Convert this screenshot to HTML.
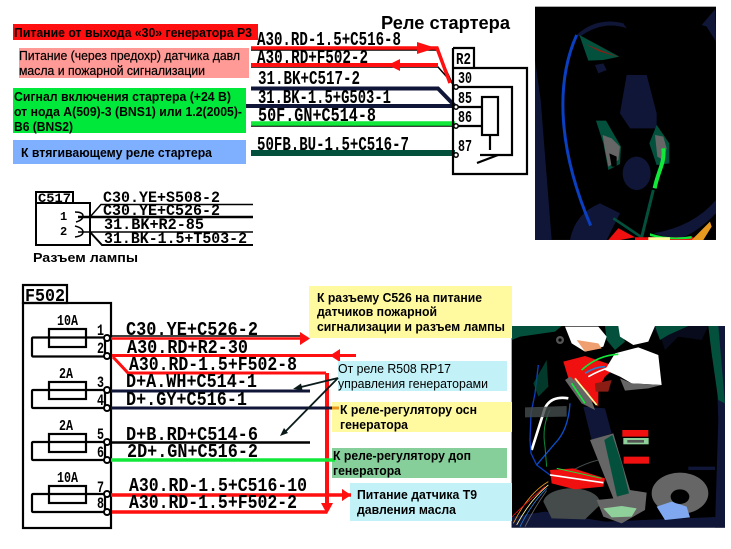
<!DOCTYPE html>
<html><head><meta charset="utf-8"><style>
html,body{margin:0;padding:0;background:#fff}
svg{display:block}
text{font-family:"Liberation Sans",sans-serif;fill:#000}
.b{font-weight:bold}
.c{font-family:"Liberation Mono",monospace;font-weight:bold;font-size:19px}
.d{font-family:"Liberation Mono",monospace;font-weight:bold;font-size:16px}
.p{font-family:"Liberation Mono",monospace;font-weight:bold;font-size:17px}
.s{font-size:12px}
</style></head><body>
<svg width="731" height="549" viewBox="0 0 731 549" xmlns="http://www.w3.org/2000/svg">
<rect width="731" height="549" fill="#fff"/>

<!-- top photo -->
<g transform="translate(520,0) scale(.3333)">
<rect x="45" y="20" width="543" height="700" fill="#000"/>
<g fill="#101638">
<path d="M320 225L380 225L410 340L410 385L330 385L300 340Z"/>
<ellipse cx="350" cy="520" rx="42" ry="50"/>
<path d="M45 180L62 300L95 720L45 720Z"/>
<path d="M150 720Q165 640 240 610L300 640L260 720Z"/>
<path d="M545 75L585 28L588 125L560 80Z"/>
<path d="M400 700Q520 680 588 600L588 640Q530 700 470 720Z"/>
<path d="M225 195L250 190L260 210L235 220Z"/>
<path d="M170 105Q230 50 310 70L320 85Q250 60 180 110Z"/>
</g>
<path d="M178 105L298 170L250 180L205 182Z" fill="#03513c"/>
<path d="M195 132L298 172L240 155Z" fill="#8a1c14"/>
<path d="M228 362L258 362L303 440L300 492L265 510L250 430Z" fill="#03513c"/>
<path d="M248 405L275 415L300 440L295 480L265 500L255 450Z" fill="#666"/>
<path d="M268 460L290 470L290 500L275 500Z" fill="#000"/>
<path d="M410 375L448 430L448 490L410 495L388 430Z" fill="#03513c"/>
<path d="M405 405L430 410L440 445L430 480L412 470Z" fill="#666"/>
<path d="M170 105C105 250 115 450 212 677" fill="none" stroke="#0a3fc0" stroke-width="9"/>
<path d="M400 570L365 712" fill="none" stroke="#03513c" stroke-width="9"/>
<path d="M430 445C435 490 415 510 404 565" fill="none" stroke="#11e83a" stroke-width="12"/>
<path d="M280 655L365 712" fill="none" stroke="#03513c" stroke-width="8"/>
<path d="M295 685L345 712L300 720L265 720Z" fill="#f01010"/>
<path d="M345 712H520V720H345Z" fill="#f01010"/>
<path d="M390 700Q450 720 515 708L515 716Q440 722 390 708Z" fill="#11e83a"/>
<path d="M515 720L570 665L575 680L550 720Z" fill="#e89a20"/>
<path d="M385 712H450V720H385Z" fill="#fff9a0"/>
</g>

<!-- bottom photo -->
<g transform="translate(505,320) scale(.3333)">
<rect x="20" y="18" width="640" height="605" fill="#000"/>
<g fill="#101638">
<path d="M630 18H660V623H630L640 300Z"/>
<path d="M20 590L120 575L300 605L660 590V623H20Z"/>
<path d="M550 440H630V450H550Z"/>
<path d="M235 260L300 265L320 340L260 360Z"/>
<path d="M440 18H610L590 60L520 50L480 90L470 60Z" opacity=".5"/>
</g>
<path d="M20 18H170L150 35L45 50L20 60Z" fill="#03513c"/>
<path d="M300 18H340L360 65L330 90L305 60Z" fill="#03513c"/>
<path d="M450 18H550L490 45L465 60Z" fill="#03513c"/>
<path d="M610 18H640L660 250L640 240L620 100Z" fill="#03513c"/>
<path d="M440 520A85 62 0 1 1 610 520A85 62 0 1 1 440 520Z" fill="#666"/>
<path d="M455 560L500 545L545 560L555 592L480 600Z" fill="#7fa8f0"/>
<ellipse cx="525" cy="530" rx="28" ry="22" fill="#000"/>
<path d="M115 545A85 45 0 0 1 285 555L240 598L140 595Z" fill="#454b4b"/>
<path d="M255 360L325 340L375 510L425 518L420 570L350 610L295 590L275 540L325 535Z" fill="#666"/>
<path d="M298 360L322 345L350 430L372 520L336 530Z" fill="#03513c"/>
<path d="M295 565L350 558L395 565L380 590L320 592Z" fill="#8fd09a"/>
<path d="M175 125L240 108L335 140L300 170L280 205L280 260L230 220L195 190Z" fill="#f01010"/>
<path d="M270 190L320 180L310 215L272 215Z" fill="#8a1c14"/>
<path d="M330 100L400 82L460 105L470 195L380 190L345 170L300 150Z" fill="#fff"/>
<path d="M345 175L380 190L470 195L430 205L360 212Z" fill="#666"/>
<path d="M180 20H280L305 50L295 80L240 95L200 70Z" fill="#fff"/>
<path d="M215 60L280 70L290 85L240 95Z" fill="#f0a070"/>
<path d="M340 18H450L430 65L385 75L345 50Z" fill="#fff"/>
<path d="M180 180L230 250L270 270L250 215L195 170Z" fill="#666"/>
<g fill="none" stroke-width="5">
<path d="M230 150Q280 105 340 103" stroke="#11e83a"/>
<path d="M250 170Q320 130 410 125" stroke="#fff"/>
<path d="M240 160Q270 140 300 140" stroke="#2a7fd0"/>
<path d="M200 190L240 250" stroke="#11e83a"/>
<path d="M210 175L275 255" stroke="#fff9a0"/>
<path d="M190 235C160 230 125 235 115 280L80 390" stroke="#fff" stroke-width="8"/>
<path d="M100 135L90 220L78 280L75 360L78 400L95 435L135 465" stroke="#0a3fc0" stroke-width="4"/>
<path d="M195 250Q190 330 150 370L95 435" stroke="#0a4fc8" stroke-width="4"/>
<path d="M135 270Q110 320 120 380L125 440" stroke="#0f8a3c" stroke-width="3"/>
<path d="M205 450Q240 430 280 420" stroke="#454b4b" stroke-width="3"/>
</g>
<path d="M60 262L185 258L185 290L60 292Z" fill="#454b4b" opacity=".8"/>
<path d="M85 190L125 120L130 200L100 230Z" fill="#03513c" opacity=".7"/>
<path d="M135 450L205 445L300 475L295 500L210 508L140 490Z" fill="#f01010"/>
<path d="M135 465L295 488" stroke="#fff" stroke-width="5"/>
<path d="M155 445L290 475" stroke="#11e83a" stroke-width="3"/>
<g fill="none" stroke-width="2.500">
<path d="M130 485Q70 520 25 610" stroke="#e89a20"/>
<path d="M130 495Q75 540 35 615" stroke="#fff9a0"/>
<path d="M125 505Q80 550 45 620" stroke="#2a7fd0"/>
<path d="M125 512Q90 560 60 620" stroke="#666"/>
<path d="M120 500Q50 560 22 590" stroke="#f01010"/>
</g>
<rect x="352" y="330" width="78" height="20" fill="#f01010"/>
<rect x="355" y="354" width="76" height="19" fill="#8fd09a"/>
<rect x="367" y="360" width="50" height="8" fill="#555"/>
<rect x="356" y="410" width="76" height="21" fill="#f01010"/>
<circle cx="165" cy="60" r="12" fill="#555"/><circle cx="165" cy="60" r="5" fill="#000"/>
</g>

<!-- top labels -->
<rect x="13" y="24" width="245" height="16" fill="#ff0f0f"/>
<rect x="19" y="48" width="230" height="30" fill="#ff9a96"/>
<rect x="13" y="88" width="233" height="45" fill="#00e83a"/>
<rect x="13" y="140" width="233" height="24" fill="#7eb0ff"/>
<text x="14" y="37" class="b" font-size="12.500" textLength="238" lengthAdjust="spacingAndGlyphs">Питание от выхода «30» генератора Р3</text>
<text x="19" y="60" font-size="12.500" stroke="#000" stroke-width=".2" textLength="221" lengthAdjust="spacingAndGlyphs">Питание (через предохр) датчика давл</text>
<text x="19" y="75" font-size="12.500" stroke="#000" stroke-width=".2" textLength="186" lengthAdjust="spacingAndGlyphs">масла и пожарной сигнализации</text>
<text x="14" y="101" class="b" font-size="12.500" textLength="217" lengthAdjust="spacingAndGlyphs">Сигнал включения стартера (+24 В)</text>
<text x="14" y="116" class="b" font-size="12.500" textLength="228" lengthAdjust="spacingAndGlyphs">от нода А(509)-3 (BNS1) или 1.2(2005)-</text>
<text x="14" y="131" class="b" font-size="12.500" textLength="59" lengthAdjust="spacingAndGlyphs">В6 (BNS2)</text>
<text x="21" y="157" class="b" font-size="12.500" textLength="191" lengthAdjust="spacingAndGlyphs">К втягивающему реле стартера</text>

<text x="381" y="29" class="b" font-size="18" textLength="129" lengthAdjust="spacingAndGlyphs">Реле стартера</text>

<!-- relay wires -->
<g fill="none" stroke-linejoin="miter">
<path d="M251 50H437L453 85" stroke="#000" stroke-width="1.500"/>
<path d="M251 67H438L454 85" stroke="#000" stroke-width="1.500"/>
<path d="M251 48H437L450 83" stroke="#ff0f0f" stroke-width="3.500"/>
<path d="M251 65H438" stroke="#ff0f0f" stroke-width="4"/>
<path d="M251 88.500H438L455 106" stroke="#101638" stroke-width="4"/>
<path d="M246 106H455" stroke="#101638" stroke-width="4"/>
<path d="M251 126H455" stroke="#000" stroke-width="1.500"/>
<path d="M251 123.500H455" stroke="#11e83a" stroke-width="4.500"/>
<path d="M251 153H455" stroke="#03513c" stroke-width="6"/>
</g>
<path d="M417 42L436 48L417 54Z" fill="#ff0f0f"/>
<path d="M388 65L400 59V71Z" fill="#ff0f0f"/>
<g fill="none" stroke="#000" stroke-width="2.200">
<path d="M453 48H474V68"/>
<path d="M453 48V174H527V68H453"/>
<path d="M456 87H512V155H480"/>
<path d="M457 107H482M457 126H482"/>
<rect x="482" y="97" width="16" height="38"/>
<path d="M490 135V150"/>
<path d="M477 163L498 155"/>
</g>
<g fill="#fff" stroke="#000" stroke-width="1.500">
<circle cx="456" cy="87" r="2.200"/><circle cx="456" cy="107" r="2.200"/><circle cx="456" cy="126" r="2.200"/><circle cx="456" cy="155" r="2.200"/>
</g>
<text class="c" x="257" y="45" textLength="144" lengthAdjust="spacingAndGlyphs">A30.RD-1.5+C516-8</text>
<text class="c" x="257" y="63" textLength="111" lengthAdjust="spacingAndGlyphs">A30.RD+F502-2</text>
<text class="c" x="258" y="84" textLength="102" lengthAdjust="spacingAndGlyphs">31.BK+C517-2</text>
<text class="c" x="258" y="103" textLength="133" lengthAdjust="spacingAndGlyphs">31.BK-1.5+G503-1</text>
<text class="c" x="258" y="121" textLength="118" lengthAdjust="spacingAndGlyphs">50F.GN+C514-8</text>
<text class="c" x="257" y="150" textLength="152" lengthAdjust="spacingAndGlyphs">50FB.BU-1.5+C516-7</text>
<text class="p" x="456" y="64" textLength="15" lengthAdjust="spacingAndGlyphs">R2</text>
<text class="p" x="458" y="83" textLength="14" lengthAdjust="spacingAndGlyphs">30</text>
<text class="p" x="458" y="103" textLength="14" lengthAdjust="spacingAndGlyphs">85</text>
<text class="p" x="458" y="122" textLength="14" lengthAdjust="spacingAndGlyphs">86</text>
<text class="p" x="458" y="151" textLength="14" lengthAdjust="spacingAndGlyphs">87</text>

<!-- C517 -->
<g fill="none" stroke="#000" stroke-width="1.500">
<rect x="36" y="192" width="37" height="11" stroke-width="2"/>
<rect x="36" y="203" width="54" height="42" stroke-width="2"/>
<path d="M90 217L101 204.500H253"/>
<path d="M78 217H253" stroke-width="2.500"/>
<path d="M78 232H253"/>
<path d="M90 232L102 245H253" stroke-width="2"/>
<path d="M75 212Q83 212 83 216Q83 220 76 222M75 226Q83 228 83 232Q83 236 75 237"/>
</g>
<text class="d" x="38" y="202" style="font-size:13px" textLength="33" lengthAdjust="spacingAndGlyphs">C517</text>
<text class="d" x="60" y="220" style="font-size:12px">1</text>
<text class="d" x="60" y="235" style="font-size:12px">2</text>
<text class="d" x="103" y="202" textLength="117" lengthAdjust="spacingAndGlyphs">C30.YE+S508-2</text>
<text class="d" x="103" y="215" textLength="117" lengthAdjust="spacingAndGlyphs">C30.YE+C526-2</text>
<text class="d" x="104" y="229" textLength="100" lengthAdjust="spacingAndGlyphs">31.BK+R2-85</text>
<text class="d" x="104" y="243" textLength="143" lengthAdjust="spacingAndGlyphs">31.BK-1.5+T503-2</text>
<text x="33" y="262" class="b" font-size="13" textLength="105" lengthAdjust="spacingAndGlyphs">Разъем лампы</text>

<!-- F502 -->
<g fill="none" stroke="#000" stroke-width="2.200">
<rect x="23" y="285" width="44" height="18"/>
<rect x="23" y="303" width="88" height="225"/>
<rect x="32" y="337.500" width="73" height="19" rx="1"/>
<rect x="32" y="390" width="73" height="18" rx="1"/>
<rect x="32" y="442" width="73" height="18" rx="1"/>
<rect x="32" y="494" width="73" height="18" rx="1"/>
<rect x="49" y="329" width="37" height="18"/>
<rect x="49" y="382" width="37" height="17"/>
<rect x="49" y="434" width="37" height="18"/>
<rect x="49" y="486" width="37" height="17"/>
</g>

<g fill="none">
<path d="M111 336H300" stroke="#000" stroke-width="1.500"/>
<path d="M111 338.500H303" stroke="#ff0f0f" stroke-width="2.500"/>
<path d="M112 355.500H356" stroke="#ff0f0f" stroke-width="3"/>
<path d="M113 357L128 373H326" stroke="#ff0f0f" stroke-width="3"/>
<path d="M327 373V507" stroke="#ff0f0f" stroke-width="4"/>
<path d="M112 512H327" stroke="#ff0f0f" stroke-width="3.500"/>
<path d="M111 391H310" stroke="#101638" stroke-width="3"/>
<path d="M111 408H335" stroke="#101638" stroke-width="3"/>
<path d="M111 442.500H310" stroke="#000" stroke-width="2.500"/>
<path d="M111 460H335" stroke="#11e83a" stroke-width="3.500"/>
<path d="M111 495H351" stroke="#ff0f0f" stroke-width="3.500"/>
</g>
<path d="M300 332L310 338.500L300 345Z" fill="#ff0f0f"/>
<path d="M330 355.500L340 349V362Z" fill="#ff0f0f"/>
<path d="M342 489L351 495L342 501Z" fill="#ff0f0f"/>
<path d="M321 503H333L327 514Z" fill="#ff0f0f"/>

<g fill="#fff" stroke="#000" stroke-width="2">
<circle cx="107" cy="338" r="3"/><circle cx="107" cy="356" r="3"/><circle cx="107" cy="390" r="3"/><circle cx="107" cy="408" r="3"/><circle cx="107" cy="442" r="3"/><circle cx="107" cy="460" r="3"/><circle cx="107" cy="494" r="3"/><circle cx="107" cy="512" r="3"/>
</g>

<text class="c" x="25" y="301" style="font-size:18px" textLength="40" lengthAdjust="spacingAndGlyphs">F502</text>
<text class="p" x="57" y="325" style="font-size:15px" textLength="21" lengthAdjust="spacingAndGlyphs">10A</text>
<text class="p" x="59" y="378" style="font-size:15px" textLength="14" lengthAdjust="spacingAndGlyphs">2A</text>
<text class="p" x="59" y="430" style="font-size:15px" textLength="14" lengthAdjust="spacingAndGlyphs">2A</text>
<text class="p" x="57" y="482" style="font-size:15px" textLength="21" lengthAdjust="spacingAndGlyphs">10A</text>
<text class="p" x="97" y="335" style="font-size:16px" textLength="7" lengthAdjust="spacingAndGlyphs">1</text>
<text class="p" x="97" y="353" style="font-size:16px" textLength="7" lengthAdjust="spacingAndGlyphs">2</text>
<text class="p" x="97" y="387" style="font-size:16px" textLength="7" lengthAdjust="spacingAndGlyphs">3</text>
<text class="p" x="97" y="405" style="font-size:16px" textLength="7" lengthAdjust="spacingAndGlyphs">4</text>
<text class="p" x="97" y="439" style="font-size:16px" textLength="7" lengthAdjust="spacingAndGlyphs">5</text>
<text class="p" x="97" y="457" style="font-size:16px" textLength="7" lengthAdjust="spacingAndGlyphs">6</text>
<text class="p" x="97" y="492" style="font-size:16px" textLength="7" lengthAdjust="spacingAndGlyphs">7</text>
<text class="p" x="97" y="508" style="font-size:16px" textLength="7" lengthAdjust="spacingAndGlyphs">8</text>

<text class="c" x="126" y="335" textLength="132" lengthAdjust="spacingAndGlyphs">C30.YE+C526-2</text>
<text class="c" x="127" y="353" textLength="121" lengthAdjust="spacingAndGlyphs">A30.RD+R2-30</text>
<text class="c" x="129" y="370" textLength="168" lengthAdjust="spacingAndGlyphs">A30.RD-1.5+F502-8</text>
<text class="c" x="126" y="387" textLength="131" lengthAdjust="spacingAndGlyphs">D+A.WH+C514-1</text>
<text class="c" x="126" y="405" textLength="121" lengthAdjust="spacingAndGlyphs">D+.GY+C516-1</text>
<text class="c" x="126" y="440" textLength="132" lengthAdjust="spacingAndGlyphs">D+B.RD+C514-6</text>
<text class="c" x="127" y="457" textLength="131" lengthAdjust="spacingAndGlyphs">2D+.GN+C516-2</text>
<text class="c" x="129" y="491" textLength="178" lengthAdjust="spacingAndGlyphs">A30.RD-1.5+C516-10</text>
<text class="c" x="129" y="508" textLength="168" lengthAdjust="spacingAndGlyphs">A30.RD-1.5+F502-2</text>

<!-- right labels -->
<rect x="309" y="286" width="203" height="52" fill="#fff9a0"/>
<rect x="338" y="361" width="169" height="30" fill="#c2f2f8"/>
<rect x="332" y="402" width="180" height="30" fill="#fff9a0"/>
<rect x="332" y="448" width="175" height="30" fill="#86cf9a"/>
<rect x="350" y="483" width="162" height="38" fill="#c2f2f8"/>
<path d="M332 408H339" stroke="#e89a20" stroke-width="3"/>
<path d="M332 460H335" stroke="#11e83a" stroke-width="3.500"/>
<path d="M342 489L350 495L342 501Z" fill="#ff0f0f"/>
<path d="M350 495H351" stroke="#ff0f0f" stroke-width="3.500"/>
<text x="317" y="302" class="b" font-size="12.500" textLength="165" lengthAdjust="spacingAndGlyphs">К разъему С526 на питание</text>
<text x="317" y="316" class="b" font-size="12.500" textLength="120" lengthAdjust="spacingAndGlyphs">датчиков пожарной</text>
<text x="317" y="331" class="b" font-size="12.500" textLength="188" lengthAdjust="spacingAndGlyphs">сигнализации и разъем лампы</text>
<text x="338" y="373" font-size="12.500" textLength="113" lengthAdjust="spacingAndGlyphs">От реле R508 RP17</text>
<text x="338" y="388" font-size="12.500" textLength="150" lengthAdjust="spacingAndGlyphs">управления генераторами</text>
<text x="340" y="414" class="b" font-size="12.500" textLength="137" lengthAdjust="spacingAndGlyphs">К реле-регулятору осн</text>
<text x="340" y="429" class="b" font-size="12.500" textLength="68" lengthAdjust="spacingAndGlyphs">генератора</text>
<text x="333" y="460" class="b" font-size="12.500" textLength="138" lengthAdjust="spacingAndGlyphs">К реле-регулятору доп</text>
<text x="333" y="475" class="b" font-size="12.500" textLength="68" lengthAdjust="spacingAndGlyphs">генератора</text>
<text x="357" y="499" class="b" font-size="12.500" textLength="120" lengthAdjust="spacingAndGlyphs">Питание датчика Т9</text>
<text x="357" y="514" class="b" font-size="12.500" textLength="99" lengthAdjust="spacingAndGlyphs">давления масла</text>

<!-- black arrows -->
<g stroke="#0a1a1a" stroke-width="1.800" fill="none">
<path d="M338 378L297 388"/>
<path d="M338 378L283 434"/>
</g>
<path d="M293 389L301 383.500L302.500 390Z" fill="#0a1a1a"/>
<path d="M280 436L284 428L288 433Z" fill="#0a1a1a"/>
</svg>
</body></html>
